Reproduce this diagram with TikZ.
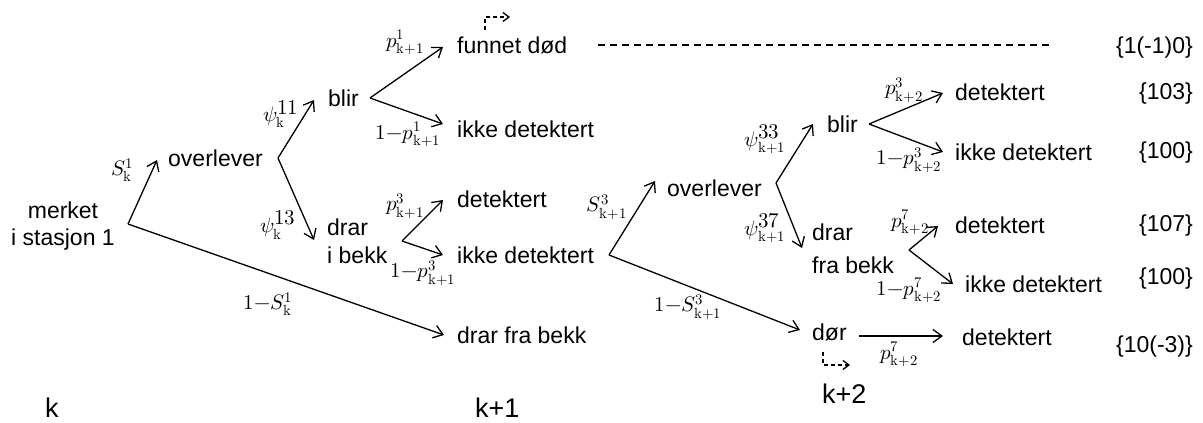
\documentclass[tikz,border=0pt]{standalone}
\usepackage{fontspec}
\usepackage{unicode-math}
\setmainfont{Liberation Sans}
\setmathfont{Latin Modern Math}
\usetikzlibrary{arrows.meta}
\begin{document}
\begin{tikzpicture}[x=1pt,y=-1pt,
  txt/.style={inner sep=0pt, anchor=base west, font=\fontsize{23}{28}\selectfont},
  kl/.style={inner sep=0pt, anchor=base west, font=\fontsize{27}{30}\selectfont},
  val/.style={inner sep=0pt, anchor=base east, font=\fontsize{23}{28}\selectfont},
  lab/.style={inner sep=0pt, font=\fontsize{21}{21}\selectfont},
  arr/.style={-{Straight Barb[length=9pt,width=13pt]}, line width=1.3pt},
  dsh/.style={line width=1.3pt, dash pattern=on 7pt off 5pt},
  elbow/.style={line width=1.3pt, dash pattern=on 4pt off 3pt, -{Straight Barb[length=6pt,width=9pt]}}]
\useasboundingbox (0,0) rectangle (1203,423);

% text nodes
\node[inner sep=0pt, anchor=north, align=center, font=\fontsize{23}{27}\selectfont] (merket) at (63,201.5) {merket\\i stasjon 1};
\node[txt] (ov1) at (168,166) {overlever};
\node[txt] (blir1) at (328,106) {blir};
\node[inner sep=0pt, anchor=north west, align=left, font=\fontsize{23}{28}\selectfont] (drar1) at (327,218.5) {drar\\i bekk};
\node[txt] (funnet) at (457,53) {funnet død};
\node[txt] (ikke1) at (457,137) {ikke detektert};
\node[txt] (det1) at (457,207) {detektert};
\node[txt] (ikke2) at (457,263) {ikke detektert};
\node[txt] (drarfra) at (457,343) {drar fra bekk};
\node[txt] (ov2) at (667,196) {overlever};
\node[txt] (blir2) at (827,132) {blir};
\node[inner sep=0pt, anchor=north west, align=left, font=\fontsize{23}{33}\selectfont] (drar2) at (812,223.5) {drar\\fra bekk};
\node[txt] (dor) at (812,340) {dør};
\node[txt] (det2) at (955,100) {detektert};
\node[txt] (ikke3) at (955,160) {ikke detektert};
\node[txt] (det3) at (955,233) {detektert};
\node[txt] (ikke4) at (965,292) {ikke detektert};
\node[txt] (det4) at (962,345) {detektert};

\node[val] (c1) at (1193,53) {\{1(-1)0\}};
\node[val] (c2) at (1193,99) {\{103\}};
\node[val] (c3) at (1193,158) {\{100\}};
\node[val] (c4) at (1193,231) {\{107\}};
\node[val] (c5) at (1193,284) {\{100\}};
\node[val] (c6) at (1193,352) {\{10(-3)\}};

\node[kl] (k0) at (45,417) {k};
\node[kl] (k1) at (475,417) {k+1};
\node[kl] (k2) at (822,403) {k+2};

% branch points and arrow ends
\coordinate (v0) at (128,224);
\coordinate (v1) at (278,158);
\coordinate (v2) at (370,98);
\coordinate (v3) at (402,241);
\coordinate (v4) at (609,255);
\coordinate (v5) at (776,183);
\coordinate (v6) at (869,124);
\coordinate (v7) at (909,250);
\coordinate (tov1) at (157,160);
\coordinate (tdrarfra) at (444,335);
\coordinate (tblir1) at (314,100);
\coordinate (tdrar1) at (314,240);
\coordinate (tfunnet) at (443,47);
\coordinate (tikke1) at (443,124);
\coordinate (tdet1) at (443,200);
\coordinate (tikke2) at (443,255);
\coordinate (tov2) at (655,181);
\coordinate (tdor) at (800,330);
\coordinate (tblir2) at (813,124);
\coordinate (tdrar2) at (802,248);
\coordinate (tdet2) at (943,93);
\coordinate (tikke3) at (943,152);
\coordinate (tdet3) at (938,226);
\coordinate (tikke4) at (953,284);
\coordinate (sdor) at (859,336);
\coordinate (tdet4) at (943,336);
\coordinate (dl0) at (598,45);
\coordinate (dl1) at (1053,45);
\coordinate (ea0) at (485,30);
\coordinate (ea1) at (485,17);
\coordinate (ea2) at (510,17);
\coordinate (eb0) at (823,352);
\coordinate (eb1) at (823,365);
\coordinate (eb2) at (850,365);

% connectors
\draw[arr] (v0) -- (tov1);
\draw[arr] (v0) -- (tdrarfra);
\draw[arr] (v1) -- (tblir1);
\draw[arr] (v1) -- (tdrar1);
\draw[arr] (v2) -- (tfunnet);
\draw[arr] (v2) -- (tikke1);
\draw[arr] (v3) -- (tdet1);
\draw[arr] (v3) -- (tikke2);
\draw[arr] (v4) -- (tov2);
\draw[arr] (v4) -- (tdor);
\draw[arr] (v5) -- (tblir2);
\draw[arr] (v5) -- (tdrar2);
\draw[arr] (v6) -- (tdet2);
\draw[arr] (v6) -- (tikke3);
\draw[arr] (v7) -- (tdet3);
\draw[arr] (v7) -- (tikke4);
\draw[arr] (sdor) -- (tdet4);
\draw[dsh] (dl0) -- (dl1);
\draw[elbow] (ea0) -- (ea1) -- (ea2);
\draw[elbow] (eb0) -- (eb1) -- (eb2);

% probability labels
\node[lab] (l1) at (122,170) {$S_{\symup{k}}^{1}$};
\node[lab] (l2) at (281,114) {$\psi_{\symup{k}}^{\textstyle 11}$};
\node[lab] (l3) at (278,225) {$\psi_{\symup{k}}^{\textstyle 13}$};
\node[lab] (l4) at (268,304) {$1{-}S_{\symup{k}}^{1}$};
\node[lab] (l5) at (405,42) {$p_{\symup{k+1}}^{1}$};
\node[lab] (l6) at (408,134) {$1{-}p_{\symup{k+1}}^{1}$};
\node[lab] (l7) at (405,206) {$p_{\symup{k+1}}^{3}$};
\node[lab] (l8) at (423,273) {$1{-}p_{\symup{k+1}}^{3}$};
\node[lab] (l9) at (607,207) {$S_{\symup{k+1}}^{3}$};
\node[lab] (l10) at (688,307) {$1{-}S_{\symup{k+1}}^{3}$};
\node[lab] (l11) at (765,139) {$\psi_{\symup{k+1}}^{\textstyle 33}$};
\node[lab] (l12) at (765,228) {$\psi_{\symup{k+1}}^{\textstyle 37}$};
\node[lab] (l13) at (904,90) {$p_{\symup{k+2}}^{3}$};
\node[lab] (l14) at (909,160) {$1{-}p_{\symup{k+2}}^{3}$};
\node[lab] (l15) at (910,222) {$p_{\symup{k+2}}^{7}$};
\node[lab] (l16) at (909,290) {$1{-}p_{\symup{k+2}}^{7}$};
\node[lab] (l17) at (899,354) {$p_{\symup{k+2}}^{7}$};
\end{tikzpicture}
\end{document}
